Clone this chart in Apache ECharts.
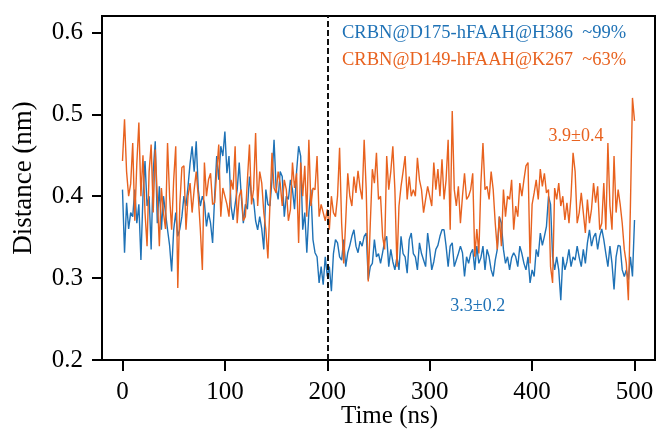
<!DOCTYPE html>
<html>
<head>
<meta charset="utf-8">
<script src="https://cdn.jsdelivr.net/npm/echarts@6/dist/echarts.min.js"></script>
<style>
html,body{margin:0;padding:0;background:#fff;}
#chart{width:659px;height:430px;}
</style>
</head>
<body>
<div id="chart"></div>
<script>
// Sampling of the time axis (ns)
const timeStartNs = 0;
const timeStepNs = 2;

const blueName = 'CRBN@D175-hFAAH@H386  ~99%';
const orangeName = 'CRBN@D149-hFAAH@K267  ~63%';

// CRBN@D175-hFAAH@H386 distance (nm), every 2 ns from 0 to 500
const blueValues = [
0.408,0.331,0.392,0.36,0.38,0.375,0.408,0.367,0.39,0.322,0.40,0.443,0.388,0.40,0.335,0.43,0.467,0.367,0.412,0.359,0.40,0.38,0.359,0.34,0.308,0.359,0.38,0.351,0.36,0.375,0.40,0.388,0.412,0.44,0.461,0.43,0.467,0.408,0.388,0.40,0.392,0.363,0.38,0.367,0.343,0.40,0.449,0.42,0.461,0.449,0.479,
0.428,0.449,0.388,0.371,0.39,0.408,0.441,0.40,0.367,0.39,0.384,0.424,0.40,0.396,0.37,0.359,0.375,0.36,0.335,0.408,0.39,0.388,0.42,0.469,0.41,0.396,0.43,0.424,0.375,0.40,0.396,0.42,0.408,0.384,0.43,0.461,0.449,0.359,0.38,0.331,0.38,0.408,0.347,0.331,0.326,0.294,0.314,0.292,0.326,0.302,
0.314,0.284,0.33,0.347,0.343,0.326,0.322,0.347,0.314,0.331,0.34,0.351,0.359,0.339,0.331,0.345,0.339,0.351,0.355,0.298,0.314,0.318,0.347,0.326,0.33,0.318,0.331,0.345,0.351,0.314,0.335,0.32,0.310,0.326,0.310,0.351,0.33,0.326,0.306,0.347,0.355,0.33,0.326,0.310,0.343,0.33,0.322,0.314,0.355,0.335,
0.31,0.32,0.335,0.34,0.351,0.359,0.359,0.339,0.314,0.339,0.343,0.314,0.322,0.33,0.339,0.331,0.302,0.326,0.318,0.33,0.335,0.310,0.339,0.318,0.325,0.339,0.310,0.335,0.326,0.31,0.302,0.322,0.335,0.375,0.367,0.335,0.318,0.326,0.31,0.325,0.331,0.326,0.314,0.339,0.33,0.318,0.31,0.326,0.294,0.31,
0.302,0.335,0.326,0.355,0.34,0.351,0.363,0.40,0.39,0.326,0.31,0.326,0.31,0.273,0.326,0.31,0.32,0.335,0.314,0.326,0.322,0.339,0.325,0.314,0.335,0.318,0.343,0.359,0.339,0.35,0.355,0.335,0.351,0.36,0.347,0.33,0.314,0.339,0.318,0.286,0.326,0.34,0.339,0.310,0.302,0.31,0.298,0.326,0.302,0.371
];

// CRBN@D149-hFAAH@K267 distance (nm), every 2 ns from 0 to 500
const orangeValues = [
0.443,0.494,0.43,0.40,0.415,0.465,0.37,0.44,0.490,0.40,0.45,0.38,0.339,0.43,0.463,0.38,0.457,0.40,0.339,0.41,0.38,0.36,0.465,0.40,0.359,0.42,0.461,0.288,0.39,0.435,0.437,0.359,0.40,0.416,0.38,0.408,0.43,0.40,0.36,0.310,0.441,0.40,0.42,0.428,0.39,0.392,0.43,0.463,0.375,0.41,0.40,
0.39,0.375,0.42,0.408,0.461,0.367,0.40,0.408,0.37,0.375,0.42,0.463,0.39,0.408,0.477,0.388,0.43,0.416,0.38,0.359,0.324,0.39,0.453,0.41,0.404,0.43,0.416,0.388,0.42,0.408,0.37,0.384,0.441,0.41,0.428,0.343,0.441,0.40,0.437,0.375,0.469,0.388,0.41,0.408,0.449,0.375,0.39,0.38,0.37,0.384,
0.359,0.40,0.38,0.375,0.40,0.459,0.367,0.318,0.37,0.428,0.40,0.388,0.424,0.404,0.431,0.41,0.396,0.469,0.408,0.296,0.367,0.433,0.416,0.453,0.396,0.40,0.351,0.335,0.449,0.408,0.43,0.461,0.408,0.314,0.388,0.412,0.43,0.449,0.396,0.424,0.40,0.408,0.40,0.447,0.42,0.408,0.38,0.396,0.412,0.40,
0.388,0.441,0.408,0.433,0.40,0.445,0.396,0.42,0.469,0.359,0.504,0.408,0.388,0.412,0.367,0.40,0.428,0.396,0.40,0.408,0.428,0.326,0.36,0.33,0.416,0.465,0.408,0.412,0.396,0.43,0.408,0.367,0.335,0.375,0.339,0.408,0.375,0.40,0.396,0.42,0.359,0.388,0.375,0.416,0.40,0.42,0.437,0.441,0.318,0.39,
0.404,0.42,0.396,0.433,0.412,0.428,0.404,0.408,0.314,0.294,0.41,0.396,0.416,0.388,0.40,0.371,0.392,0.367,0.40,0.453,0.43,0.367,0.38,0.404,0.38,0.355,0.396,0.367,0.384,0.416,0.392,0.412,0.359,0.367,0.416,0.359,0.465,0.388,0.359,0.449,0.38,0.408,0.39,0.367,0.335,0.318,0.273,0.388,0.52,0.492
];

// Axis ticks
const xTicks = [0, 100, 200, 300, 400, 500];
const yTicks = [0.2, 0.3, 0.4, 0.5, 0.6];

// Annotations: [time, distance, text]
const orangeNote = [442.8, 0.4736, '3.9\u00b10.4'];
const blueNote = [346.9, 0.266, '3.3\u00b10.2'];
const dividerTime = 200;

const blueColor = '#1f72b6';
const orangeColor = '#e8621f';
const font = "'Liberation Serif', 'Times New Roman', serif";

function toPairs(vals) {
  return vals.map((v, i) => [timeStartNs + i * timeStepNs, v]);
}

const chart = echarts.init(document.getElementById('chart'));
chart.setOption({
  animation: false,
  backgroundColor: '#ffffff',
  grid: {
    left: 102, top: 16, right: 4, bottom: 70,
    outerBoundsMode: 'none', containLabel: false,
    show: true, borderColor: '#000', borderWidth: 2, backgroundColor: 'transparent'
  },
  legend: {
    orient: 'vertical',
    left: 332, top: 17,
    icon: 'none',
    itemWidth: 0, itemHeight: 14, itemGap: 5,
    data: [
      { name: blueName, textStyle: { color: blueColor } },
      { name: orangeName, textStyle: { color: orangeColor } }
    ],
    textStyle: { fontFamily: font, fontSize: 18.5, lineHeight: 22 }
  },
  xAxis: {
    type: 'value', min: -20, max: 520,
    name: 'Time (ns)', nameLocation: 'middle', nameGap: 44, nameMoveOverlap: false,
    nameTextStyle: { fontFamily: font, fontSize: 25, color: '#000', padding: [0, 0, 0, 22] },
    axisLine: { show: true, onZero: false, lineStyle: { color: '#000', width: 2 } },
    axisTick: { show: true, inside: false, length: 11, customValues: xTicks, lineStyle: { color: '#000', width: 2 } },
    axisLabel: { customValues: xTicks, margin: 20, fontFamily: font, fontSize: 25, color: '#000' },
    splitLine: { show: false }
  },
  yAxis: {
    type: 'value', min: 0.2, max: 0.62,
    name: 'Distance (nm)', nameLocation: 'middle', nameGap: 65, nameMoveOverlap: false,
    nameTextStyle: { fontFamily: font, fontSize: 27, color: '#000', padding: [0, 0, 0, 20] },
    axisLine: { show: true, onZero: false, lineStyle: { color: '#000', width: 2 } },
    axisTick: { show: true, inside: false, length: 10, customValues: yTicks, lineStyle: { color: '#000', width: 2 } },
    axisLabel: { customValues: yTicks, margin: 19, fontFamily: font, fontSize: 25, color: '#000',
      formatter: v => v.toFixed(1) },
    splitLine: { show: false }
  },
  series: [
    {
      name: blueName, type: 'line', data: toPairs(blueValues),
      showSymbol: false, symbol: 'none',
      lineStyle: { color: blueColor, width: 1.4 }, itemStyle: { color: blueColor },
      markPoint: {
        symbol: 'circle', symbolSize: 0,
        label: { show: true, position: 'inside', formatter: blueNote[2], color: blueColor, fontFamily: font, fontSize: 18 },
        data: [{ coord: [blueNote[0], blueNote[1]] }]
      }
    },
    {
      name: orangeName, type: 'line', data: toPairs(orangeValues),
      showSymbol: false, symbol: 'none',
      lineStyle: { color: orangeColor, width: 1.4 }, itemStyle: { color: orangeColor },
      markPoint: {
        symbol: 'circle', symbolSize: 0,
        label: { show: true, position: 'inside', formatter: orangeNote[2], color: orangeColor, fontFamily: font, fontSize: 18 },
        data: [{ coord: [orangeNote[0], orangeNote[1]] }]
      },
      markLine: {
        silent: true, symbol: 'none',
        label: { show: false },
        lineStyle: { color: '#111', width: 2, type: [6, 3] },
        data: [{ xAxis: dividerTime }]
      }
    }
  ]
});
</script>
</body>
</html>
